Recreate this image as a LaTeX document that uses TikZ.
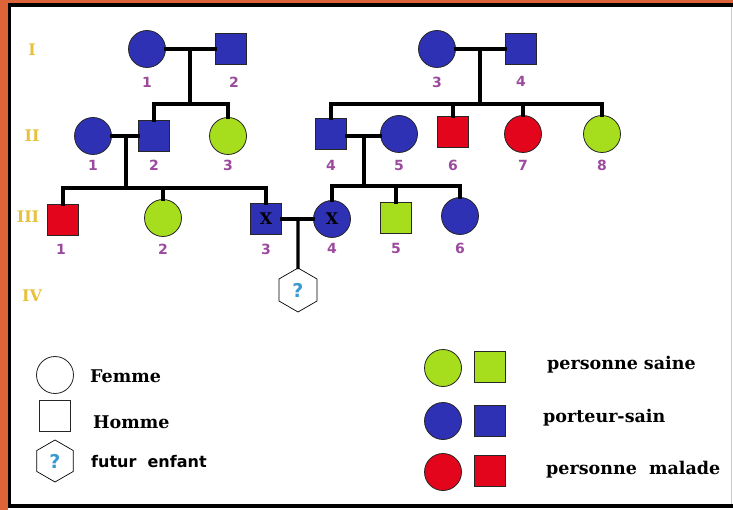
\documentclass[tikz,border=0pt]{standalone}
\usepackage{fontspec}
\setmainfont{DejaVu Serif}
\newfontfamily\sansb{DejaVu Sans}
\usetikzlibrary{shapes.geometric}
\definecolor{pblue}{HTML}{2E31B4}
\definecolor{pgreen}{HTML}{A6DE1E}
\definecolor{pred}{HTML}{E3051B}
\definecolor{pgold}{HTML}{E8C13C}
\definecolor{ppurple}{HTML}{9C4A9E}
\definecolor{porange}{HTML}{DC6438}
\definecolor{pqblue}{HTML}{3A9AD0}
\tikzset{
  fem/.style={circle,minimum size=37pt,inner sep=0pt,draw=black!85,line width=0.8pt},
  mal/.style={rectangle,minimum size=31pt,inner sep=0pt,draw=black!85,line width=0.8pt},
  hexa/.style={regular polygon,regular polygon sides=6,shape border rotate=30,minimum size=44pt,inner sep=0pt,draw=black,line width=0.7pt,fill=white,font=\sansb\bfseries\fontsize{19}{19}\selectfont,text=pqblue},
  carrier/.style={fill=pblue},
  healthy/.style={fill=pgreen},
  sick/.style={fill=pred},
  xmark/.style={font=\bfseries\fontsize{16}{16}\selectfont},
  num/.style={text=ppurple,font=\sansb\bfseries\fontsize{14}{14}\selectfont,inner sep=0pt},
  gen/.style={text=pgold,font=\bfseries\fontsize{16}{16}\selectfont,inner sep=0pt},
  link/.style={line width=3.2pt,line cap=rect},
  legtxt/.style={anchor=west,font=\bfseries\fontsize{17.5}{17.5}\selectfont,inner sep=0pt},
}
\begin{document}
\begin{tikzpicture}[x=1pt,y=-1pt]
\useasboundingbox (0,0) rectangle (733,510);
% frame
\fill[white] (0,0) rectangle (733,510);
\fill[porange] (0,0) rectangle (8,510);
\fill[porange] (0,0) rectangle (733,3);
\fill[black] (8,3) rectangle (733,7);
\fill[black] (8,3) rectangle (11,508);
\fill[black] (8,504) rectangle (733,508);
\draw[black!20,line width=1pt] (731,7) -- (731,504);

% generation labels
\node[gen] (gI) at (32,50) {I};
\node[gen] (gII) at (32,136) {II};
\node[gen] (gIII) at (28,217) {III};
\node[gen] (gIV) at (32,296) {IV};

% generation I
\node[fem,carrier] (i1) at (147,49) {};
\node[mal,carrier] (i2) at (231,49) {};
\node[fem,carrier] (i3) at (437,49) {};
\node[mal,carrier] (i4) at (521,49) {};

% generation II
\node[fem,carrier] (ii1) at (93,136) {};
\node[mal,carrier] (ii2) at (154,136) {};
\node[fem,healthy] (ii3) at (228,136) {};
\node[mal,carrier] (ii4) at (331,134) {};
\node[fem,carrier] (ii5) at (399,134) {};
\node[mal,sick] (ii6) at (453,132) {};
\node[fem,sick] (ii7) at (523,134) {};
\node[fem,healthy] (ii8) at (602,134) {};

% generation III
\node[mal,sick] (iii1) at (63,220) {};
\node[fem,healthy] (iii2) at (163,218) {};
\node[mal,carrier,xmark] (iii3) at (266,219) {X};
\node[fem,carrier,xmark] (iii4) at (332,219) {X};
\node[mal,healthy] (iii5) at (396,218) {};
\node[fem,carrier] (iii6) at (460,216) {};

% generation IV
\node[hexa] (iv1) at (298,290) {?};

% numbers
\node[num] (n-i1) at (147,82) {1};
\node[num] (n-i2) at (234,82) {2};
\node[num] (n-i3) at (437,82) {3};
\node[num] (n-i4) at (521,81) {4};
\node[num] (n-ii1) at (93,165) {1};
\node[num] (n-ii2) at (154,165) {2};
\node[num] (n-ii3) at (228,165) {3};
\node[num] (n-ii4) at (331,165) {4};
\node[num] (n-ii5) at (399,165) {5};
\node[num] (n-ii6) at (453,165) {6};
\node[num] (n-ii7) at (523,165) {7};
\node[num] (n-ii8) at (602,165) {8};
\node[num] (n-iii1) at (61,249) {1};
\node[num] (n-iii2) at (163,249) {2};
\node[num] (n-iii3) at (266,249) {3};
\node[num] (n-iii4) at (332,248) {4};
\node[num] (n-iii5) at (396,248) {5};
\node[num] (n-iii6) at (460,248) {6};

% connectors
\coordinate (m1) at (190,49);   \coordinate (s1) at (190,104);
\coordinate (m2) at (480,49);   \coordinate (s2) at (480,104);
\coordinate (m3) at (126,136);  \coordinate (s3) at (126,188);
\coordinate (m4) at (364,136);  \coordinate (s4) at (364,186);
\coordinate (m5) at (298,219);

\draw[link] (i1.east) -- (i2.west);
\draw[link] (m1) -- (s1);
\draw[link] (ii2.north) -- (ii2.north |- s1) -- (ii3.north |- s1) -- (ii3.north);

\draw[link] (i3.east) -- (i4.west);
\draw[link] (m2) -- (s2);
\draw[link] (ii4.north) -- (ii4.north |- s2) -- (ii8.north |- s2) -- (ii8.north);
\draw[link] (ii6.north) -- (ii6.north |- s2);
\draw[link] (ii7.north) -- (ii7.north |- s2);

\draw[link] (ii1.east |- m3) -- (ii2.west |- m3);
\draw[link] (m3) -- (s3);
\draw[link] (iii1.north) -- (iii1.north |- s3) -- (iii3.north |- s3) -- (iii3.north);
\draw[link] (iii2.north) -- (iii2.north |- s3);

\draw[link] (ii4.east |- m4) -- (ii5.west |- m4);
\draw[link] (m4) -- (s4);
\draw[link] (iii4.north) -- (iii4.north |- s4) -- (iii6.north |- s4) -- (iii6.north);
\draw[link] (iii5.north) -- (iii5.north |- s4);

\draw[link] (iii3.east) -- (iii4.west);
\draw[link] (m5) -- (iv1.north);

% legend left
\node[fem,fill=white] (lf) at (55,375) {};
\node[mal,fill=white] (lm) at (55,416) {};
\node[hexa,minimum size=42pt] (lh) at (55,461) {?};
\node[legtxt] (tf) at (90,376) {Femme};
\node[legtxt] (tm) at (93,422) {Homme};
\node[legtxt,font=\sansb\bfseries\fontsize{16}{16}\selectfont] (th) at (91,462) {futur\ \ enfant};

% legend right
\node[fem,healthy] (lg1) at (443,368) {};
\node[mal,healthy] (lg2) at (490,367) {};
\node[fem,carrier] (lb1) at (443,421) {};
\node[mal,carrier] (lb2) at (490,421) {};
\node[fem,sick] (lr1) at (443,472) {};
\node[mal,sick] (lr2) at (490,471) {};
\node[legtxt] (tg) at (547,365) {personne saine};
\node[legtxt] (tb) at (543,418) {porteur-sain};
\node[legtxt] (tr) at (546,470) {personne\ \ malade};
\end{tikzpicture}
\end{document}
